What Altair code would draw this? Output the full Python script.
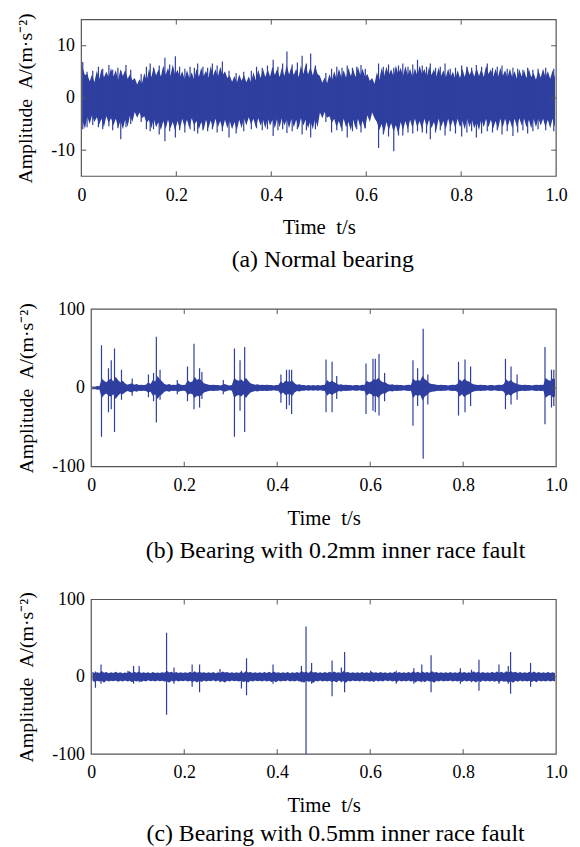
import altair as alt
import pandas as pd

FONT = "Liberation Serif"
BLUE = "#2e3f9f"
FRAME = "#555555"

# time grid: centres of 0.005 s bins
t_grid = [round(0.0025 + 0.005 * i, 4) for i in range(200)]
x_ticks = [0, 0.2, 0.4, 0.6, 0.8, 1.0]

# ---------------- (a) normal bearing : envelope of the dense signal ----------------
p1_hi = [5.9, 4.4, 4.6, 3.2, 4.5, 3.0, 5.2, 3.6, 5.6, 3.9, 5.0, 4.0, 5.7, 4.1, 5.3, 3.5, 5.5, 4.2, 5.4, 3.7,
         4.6, 3.4, 3.8, 2.6, 3.6, 2.7, 4.8, 3.3, 5.6, 4.0, 6.0, 4.3, 5.5, 4.1, 6.2, 4.4, 5.8, 4.2, 6.4, 4.5,
         5.4, 4.0, 5.1, 3.6, 5.3, 3.8, 4.9, 3.5, 5.6, 4.0, 5.8, 4.2, 5.2, 3.9, 6.1, 4.3, 5.5, 4.1, 6.0, 4.4,
         5.1, 3.8, 4.3, 3.1, 4.2, 2.9, 4.5, 3.3, 4.4, 3.0, 4.1, 3.0, 4.9, 3.4, 5.4, 3.8, 5.6, 4.0, 5.5, 4.1,
         6.0, 4.4, 5.6, 4.0, 5.9, 4.2, 6.3, 4.5, 6.0, 4.4, 5.6, 4.0, 6.2, 4.6, 6.4, 4.5, 6.0, 4.3, 6.2, 4.6,
         4.2, 2.9, 3.9, 2.8, 4.6, 3.3, 5.1, 3.7, 5.6, 4.0, 5.3, 3.9, 5.8, 4.2, 5.5, 4.0, 6.0, 4.4, 5.6, 4.0,
         4.6, 3.3, 3.8, 2.7, 4.9, 3.5, 5.8, 4.2, 6.0, 4.4, 5.5, 4.1, 6.2, 4.6, 5.8, 4.2, 6.1, 4.4, 5.6, 4.0,
         5.7, 4.3, 6.2, 4.6, 5.6, 4.0, 6.0, 4.4, 5.5, 4.1, 5.8, 4.2, 5.3, 3.9, 5.6, 4.0, 5.0, 3.7, 5.3, 3.8,
         5.6, 4.0, 6.0, 4.4, 5.5, 4.1, 5.8, 4.2, 5.6, 4.0, 6.2, 4.6, 5.5, 4.1, 5.6, 4.0, 5.8, 4.2, 5.3, 3.9,
         5.6, 4.0, 5.1, 3.7, 5.5, 4.1, 5.3, 3.8, 5.6, 4.0, 4.8, 3.5, 5.3, 3.9, 5.6, 4.0, 5.1, 3.7, 5.3, 3.9]
p1_lo = [-4.4, -5.9, -3.6, -5.0, -3.3, -4.6, -3.7, -5.1, -4.0, -5.6, -3.5, -4.8, -3.9, -5.3, -4.0, -5.6, -4.4, -6.0, -4.1, -5.5,
         -3.3, -4.6, -2.7, -3.8, -2.8, -3.9, -3.5, -4.8, -4.2, -5.8, -4.0, -5.6, -4.6, -6.2, -4.4, -6.0, -4.2, -5.8, -4.6, -6.3,
         -4.4, -6.0, -4.0, -5.6, -4.2, -5.8, -3.9, -5.3, -4.4, -6.0, -4.6, -6.2, -4.2, -5.8, -4.3, -5.7, -4.0, -5.6, -4.4, -6.0,
         -4.2, -5.8, -4.4, -6.0, -4.6, -6.2, -4.2, -5.8, -3.9, -5.3, -3.7, -5.1, -4.0, -5.6, -3.9, -5.3, -4.2, -5.8, -3.9, -5.3,
         -4.2, -5.8, -4.0, -5.6, -3.9, -5.3, -4.2, -5.8, -4.0, -5.6, -4.2, -5.8, -3.9, -5.3, -4.2, -5.8, -4.4, -6.0, -4.0, -5.6,
         -2.8, -3.9, -2.7, -3.8, -3.5, -4.8, -4.0, -5.6, -4.4, -6.0, -4.0, -5.6, -4.6, -6.2, -4.2, -5.8, -4.0, -5.6, -4.4, -6.0,
         -3.3, -4.6, -2.8, -3.9, -4.6, -6.2, -5.0, -6.7, -4.6, -6.2, -4.8, -6.5, -5.2, -6.9, -4.6, -6.2, -4.4, -6.0, -4.2, -5.8,
         -4.0, -5.6, -4.4, -6.0, -4.0, -5.6, -4.2, -5.8, -4.6, -6.2, -4.0, -5.6, -4.4, -6.0, -4.0, -5.6, -4.2, -5.8, -4.0, -5.6,
         -4.4, -6.0, -4.0, -5.6, -4.2, -5.8, -4.6, -6.2, -4.0, -5.6, -4.0, -5.6, -4.2, -5.8, -4.4, -6.0, -4.0, -5.6, -4.0, -5.6,
         -4.2, -5.8, -4.0, -5.6, -3.9, -5.3, -4.0, -5.6, -4.2, -5.8, -4.0, -5.6, -3.9, -5.3, -4.0, -5.6, -4.2, -5.8, -4.0, -5.6]

p1_spk_t = [0.003, 0.012, 0.024, 0.036, 0.045, 0.058, 0.066, 0.077, 0.083, 0.094,
            0.104, 0.126, 0.137, 0.145, 0.152, 0.164, 0.176, 0.186, 0.198, 0.207,
            0.218, 0.229, 0.238, 0.245, 0.256, 0.266, 0.276, 0.286, 0.297, 0.311,
            0.326, 0.342, 0.358, 0.369, 0.381, 0.392, 0.404, 0.414, 0.424, 0.433,
            0.444, 0.455, 0.465, 0.474, 0.483, 0.493, 0.515, 0.527, 0.538, 0.549,
            0.560, 0.571, 0.580, 0.589, 0.598, 0.626, 0.636, 0.647, 0.658, 0.668,
            0.677, 0.688, 0.698, 0.708, 0.718, 0.727, 0.735, 0.746, 0.756, 0.766,
            0.777, 0.788, 0.801, 0.812, 0.822, 0.832, 0.843, 0.855, 0.866, 0.876,
            0.886, 0.897, 0.909, 0.919, 0.930, 0.940, 0.951, 0.962, 0.978, 0.995]
p1_spk_hi = [6.9, 5.0, 5.2, 6.0, 5.6, 6.3, 5.4, 5.8, 5.2, 6.3,
             5.4, 4.6, 6.0, 6.6, 5.8, 6.2, 7.7, 6.4, 8.0, 6.0,
             5.6, 6.0, 5.8, 6.6, 6.0, 5.8, 6.6, 6.2, 7.0, 5.2,
             4.8, 5.0, 5.2, 6.0, 5.8, 6.2, 7.3, 6.0, 6.6, 8.9,
             6.4, 6.8, 8.1, 6.6, 8.5, 6.2, 4.8, 5.6, 6.0, 5.8,
             6.2, 5.8, 6.0, 6.3, 5.6, 6.6, 6.0, 6.4, 5.8, 6.2,
             6.6, 6.0, 6.4, 7.3, 6.2, 6.0, 6.6, 5.8, 6.0, 6.6,
             5.6, 5.8, 6.2, 6.0, 5.8, 6.3, 6.0, 6.6, 5.8, 6.0,
             6.2, 5.6, 5.8, 5.6, 5.4, 5.8, 5.4, 5.6, 5.8, 5.6]
p1_spk_lo = [-6.0, -5.6, -5.2, -5.6, -6.0, -5.4, -6.2, -5.8, -7.9, -5.6,
             -5.0, -4.6, -6.0, -6.4, -6.0, -7.0, -8.3, -6.4, -7.6, -6.2,
             -6.6, -6.0, -6.4, -6.8, -6.2, -6.4, -6.0, -6.6, -6.4, -7.6,
             -6.8, -6.4, -6.0, -5.8, -6.2, -6.0, -7.3, -6.2, -6.0, -6.7,
             -6.4, -6.0, -7.0, -6.2, -7.6, -6.0, -4.6, -6.6, -6.2, -6.4,
             -7.6, -6.4, -6.0, -6.6, -5.8, -9.6, -7.0, -7.4, -10.2, -7.2,
             -7.2, -6.6, -6.8, -6.4, -6.6, -6.8, -7.9, -6.6, -6.2, -7.2,
             -6.4, -6.8, -7.4, -6.6, -6.4, -7.6, -6.8, -6.4, -6.6, -6.2,
             -7.0, -6.4, -7.3, -6.6, -6.2, -6.8, -6.4, -6.0, -6.2, -6.4]

# ---------------- (b) 0.2 mm inner race fault ----------------
p2_hi = [2, 1.5, 2.5, 2, 12, 9, 7, 10, 12, 8, 14, 10, 7, 9, 6, 4, 5, 6, 4, 5,
         3.5, 4, 3.5, 4, 7, 5, 10, 8, 15, 11, 8, 5, 4, 5, 3.5, 4, 3.5, 6, 4, 3.5,
         4, 10, 7, 8, 14, 10, 12, 9, 6, 5, 4, 3.5, 4, 3.5, 3.5, 3, 4, 5, 3.5, 3,
         3.5, 13, 10, 9, 11, 8, 13, 9, 6, 5, 4, 4.5, 3.5, 4, 3.5, 4, 3.5, 3.5, 3, 3.5,
         3.5, 8, 6, 9, 8, 8, 9, 6, 4, 4.5, 3.5, 3.5, 3, 3.5, 3, 3.5, 3, 3.5, 3, 3.5,
         4, 10, 7, 9, 7, 6, 4, 4.5, 3.5, 4, 3.5, 3.5, 3, 3.5, 3.5, 3, 4, 3.5, 9, 7,
         8, 11, 10, 13, 9, 7, 7, 5, 4, 4.5, 3.5, 4, 3.5, 3.5, 3, 3.5, 4, 3.5, 12, 9,
         10, 9, 15, 11, 9, 6, 5, 4.5, 4, 3.5, 4, 3.5, 3.5, 3, 3.5, 4, 3.5, 5, 11, 8,
         12, 9, 8, 6, 4.5, 4, 3.5, 4, 3.5, 3.5, 3, 3.5, 3.5, 3, 3.5, 4, 3.5, 5, 11, 8,
         10, 7, 6, 4.5, 4, 3.5, 4, 3.5, 3.5, 3, 3.5, 4, 3.5, 4, 3.5, 13, 10, 9, 12, 11]
p2_lo = [-2, -1.5, -2.5, -2, -13, -9, -7, -10, -11, -8, -14, -10, -7, -8, -6, -4, -5, -6, -4, -5,
         -3.5, -4, -3.5, -4, -6, -5, -10, -8, -14, -10, -8, -5, -4, -5, -3.5, -4, -3.5, -5, -4, -3.5,
         -4, -9, -7, -8, -13, -10, -11, -9, -6, -5, -4, -3.5, -4, -3.5, -3.5, -3, -4, -5, -3.5, -3,
         -3.5, -13, -10, -9, -11, -8, -13, -9, -6, -5, -4, -4.5, -3.5, -4, -3.5, -4, -3.5, -3.5, -3, -3.5,
         -3.5, -8, -6, -9, -8, -8, -10, -6, -4, -4.5, -3.5, -3.5, -3, -3.5, -3, -3.5, -3, -3.5, -3, -3.5,
         -4, -10, -7, -9, -7, -6, -4, -4.5, -3.5, -4, -3.5, -3.5, -3, -3.5, -3.5, -3, -4, -3.5, -10, -7,
         -8, -11, -10, -13, -9, -7, -7, -5, -4, -4.5, -3.5, -4, -3.5, -3.5, -3, -3.5, -4, -3.5, -13, -9,
         -10, -9, -16, -11, -9, -6, -5, -4.5, -4, -3.5, -4, -3.5, -3.5, -3, -3.5, -4, -3.5, -5, -11, -8,
         -12, -9, -8, -6, -4.5, -4, -3.5, -4, -3.5, -3.5, -3, -3.5, -3.5, -3, -3.5, -4, -3.5, -5, -10, -8,
         -10, -7, -6, -4.5, -4, -3.5, -4, -3.5, -3.5, -3, -3.5, -4, -3.5, -4, -3.5, -13, -10, -9, -12, -11]

p2_spk_t = [0.022, 0.037, 0.043, 0.050, 0.065, 0.088, 0.123, 0.134, 0.140, 0.148,
            0.185, 0.207, 0.221, 0.233, 0.238, 0.284, 0.308, 0.320, 0.330, 0.408,
            0.420, 0.426, 0.431, 0.505, 0.518, 0.528, 0.591, 0.606, 0.611, 0.619,
            0.631, 0.692, 0.702, 0.714, 0.724, 0.790, 0.804, 0.816, 0.891, 0.903,
            0.916, 0.976, 0.990, 0.995]
p2_spk_hi = [54, 25, 35, 50, 23, 12, 17, 19, 65, 23,
             10, 27, 56, 25, 20, 10, 50, 35, 52, 17,
             23, 23, 23, 36, 33, 15, 31, 37, 37, 43,
             19, 35, 25, 75, 17, 33, 36, 27, 37, 27,
             17, 52, 23, 23]
p2_spk_lo = [-62, -31, -27, -56, -15, -10, -12, -17, -44, -15,
             -8, -17, -27, -25, -14, -8, -62, -29, -56, -19,
             -27, -22, -33, -31, -31, -14, -33, -29, -31, -35,
             -17, -48, -23, -90, -21, -35, -31, -23, -27, -21,
             -15, -46, -25, -23]

# ---------------- (c) 0.5 mm inner race fault ----------------
p3_hi = [6.5, 4.8, 6.0, 5.0, 7.5, 5.2, 6.2, 4.6, 5.8, 4.8, 6.4, 5.0, 6.0, 4.6, 5.6, 4.8, 7.2, 5.0, 6.6, 5.2,
         7.0, 4.8, 6.0, 5.0, 5.8, 4.6, 6.2, 5.0, 5.6, 4.8, 6.0, 5.2, 8.0, 5.6, 6.4, 5.0, 6.2, 4.8, 5.8, 5.0,
         6.0, 4.8, 6.4, 5.0, 7.2, 5.4, 6.6, 5.2, 6.0, 4.8, 5.8, 5.0, 6.2, 4.6, 6.0, 4.8, 7.0, 5.6, 6.2, 5.0,
         5.8, 4.8, 6.0, 5.0, 6.4, 5.0, 7.2, 5.6, 6.2, 5.0, 5.8, 4.8, 6.0, 5.0, 6.2, 4.8, 6.4, 5.0, 7.0, 5.4,
         6.0, 4.8, 5.8, 5.0, 6.2, 4.6, 6.0, 5.0, 6.2, 4.8, 7.6, 5.6, 6.4, 5.0, 8.0, 5.6, 6.2, 5.0, 6.0, 4.8,
         6.2, 5.0, 6.6, 5.2, 7.0, 5.4, 6.0, 4.8, 7.6, 5.6, 6.2, 5.0, 5.8, 4.8, 6.0, 5.0, 6.2, 4.8, 6.0, 5.0,
         6.6, 5.2, 6.0, 4.8, 6.2, 5.0, 5.8, 4.6, 6.0, 4.8, 6.4, 5.0, 6.2, 4.8, 6.0, 5.0, 6.2, 4.8, 7.2, 5.4,
         6.4, 5.0, 7.0, 5.2, 6.2, 4.8, 7.4, 5.6, 6.2, 5.0, 6.0, 4.8, 5.8, 5.0, 6.2, 4.8, 6.0, 5.0, 6.6, 5.2,
         6.2, 4.8, 6.0, 5.0, 7.2, 5.4, 6.6, 5.0, 6.2, 4.8, 6.0, 5.0, 6.4, 5.0, 7.0, 5.2, 6.4, 5.0, 7.2, 5.6,
         7.6, 5.6, 6.4, 5.0, 6.2, 4.8, 6.0, 5.0, 6.4, 5.2, 7.0, 5.0, 6.2, 4.8, 6.0, 5.0, 6.2, 4.8, 6.0, 5.0]
p3_lo = [-4.8, -6.6, -5.0, -6.0, -5.2, -7.8, -4.8, -6.2, -5.0, -5.8, -4.8, -6.4, -5.0, -6.0, -4.8, -5.6, -5.2, -7.0, -5.0, -6.2,
         -4.8, -6.6, -5.0, -6.0, -4.6, -5.8, -5.0, -6.2, -4.8, -5.6, -5.0, -6.0, -5.6, -7.6, -5.0, -6.4, -4.8, -6.2, -5.0, -5.8,
         -4.8, -6.0, -5.0, -6.6, -5.4, -7.4, -5.2, -6.6, -4.8, -6.0, -5.0, -5.8, -4.6, -6.2, -4.8, -6.0, -5.6, -7.2, -5.0, -6.2,
         -4.8, -5.8, -5.0, -6.0, -5.0, -6.6, -5.6, -7.4, -5.0, -6.2, -4.8, -5.8, -5.0, -6.0, -4.8, -6.2, -5.0, -6.6, -5.4, -7.0,
         -4.8, -6.0, -5.0, -5.8, -4.6, -6.2, -5.0, -6.0, -4.8, -6.2, -5.6, -7.6, -5.0, -6.4, -5.6, -8.0, -5.0, -6.2, -4.8, -6.0,
         -5.0, -6.2, -5.2, -6.6, -5.4, -7.2, -4.8, -6.0, -5.6, -7.8, -5.0, -6.2, -4.8, -5.8, -5.0, -6.0, -4.8, -6.2, -5.0, -6.0,
         -5.2, -6.8, -4.8, -6.0, -5.0, -6.2, -4.6, -5.8, -4.8, -6.0, -5.0, -6.6, -4.8, -6.2, -5.0, -6.0, -4.8, -6.2, -5.4, -7.4,
         -5.0, -6.4, -5.2, -7.0, -4.8, -6.2, -5.6, -7.6, -5.0, -6.2, -4.8, -6.0, -5.0, -5.8, -4.8, -6.2, -5.0, -6.0, -5.2, -6.8,
         -4.8, -6.2, -5.0, -6.0, -5.4, -7.2, -5.0, -6.6, -4.8, -6.2, -5.0, -6.0, -5.0, -6.4, -5.2, -7.0, -5.0, -6.4, -5.6, -7.4,
         -5.6, -7.8, -5.0, -6.4, -4.8, -6.2, -5.0, -6.0, -5.2, -6.6, -5.0, -7.0, -4.8, -6.2, -5.0, -6.0, -4.8, -6.2, -5.0, -6.0]

p3_spk_t = [0.009, 0.021, 0.079, 0.091, 0.103, 0.162, 0.178, 0.217, 0.233, 0.277,
            0.323, 0.334, 0.391, 0.452, 0.462, 0.474, 0.518, 0.538, 0.545, 0.601,
            0.656, 0.694, 0.711, 0.731, 0.794, 0.818, 0.834, 0.877, 0.897, 0.902,
            0.945]
p3_spk_hi = [7, 16, 8, 14, 14, 57, 12, 16, 16, 10,
             8, 24, 16, 14, 65, 18, 21, 12, 32, 8,
             8, 11, 16, 28, 11, 9, 22, 16, 14, 32,
             18]
p3_spk_lo = [-14, -9, -6, -9, -7, -49, -9, -13, -20, -7,
             -15, -24, -9, -7, -100, -9, -25, -7, -20, -6,
             -9, -9, -7, -20, -9, -7, -18, -9, -9, -22,
             -13]

Y_TITLE = "Amplitude\u2002A/(m\u00b7s\u207b\u00b2)"
X_TITLE = "Time\u2002t/s"
W = 479


def panel(hi, lo, spk_t, spk_hi, spk_lo, ydom, yticks, h, x0, caption, cap_dx, cap_off):
    core = pd.DataFrame({"t": t_grid, "hi": hi, "lo": lo})
    spk = pd.DataFrame({"t": spk_t, "hi": spk_hi, "lo": spk_lo})
    xs = alt.Scale(domain=[0, 1], range=[x0, W], nice=False, zero=False)
    ys = alt.Scale(domain=ydom, nice=False, zero=False)
    x_axis = alt.Axis(values=x_ticks, title=X_TITLE, grid=False, ticks=False, domain=False,
                      labelExpr="datum.value == 0 ? '0' : format(datum.value, '.1f')",
                      labelFlush=False, labelOverlap=False, labelPadding=10, titlePadding=13)
    y_axis = alt.Axis(values=yticks, title=Y_TITLE, grid=False, ticks=False, domain=False,
                      labelExpr="replace(datum.label, '\u2212', '-')", offset=-x0,
                      labelFlush=False, labelOverlap=False, labelPadding=7, titlePadding=15,
                      titleFontSize=20)
    X = alt.X("t:Q", scale=xs, axis=x_axis)
    Y = alt.Y("hi:Q", scale=ys, axis=y_axis)
    area = alt.Chart(core).mark_area(color=BLUE, clip=True, opacity=1).encode(
        x=X, y=Y, y2="lo:Q")
    spikes = alt.Chart(spk).mark_rule(color=BLUE, strokeWidth=1.2, clip=True).encode(
        x=X, y=Y, y2="lo:Q")
    inner_x = [v for v in x_ticks if 0 < v < 1]
    inner_y = [v for v in yticks if ydom[0] < v < ydom[1]]
    xt = pd.DataFrame({"t": inner_x})
    yt = pd.DataFrame({"hi": inner_y})
    tick_bottom = alt.Chart(xt).mark_rule(color=FRAME).encode(
        x=X, y=alt.value(h), y2=alt.value(h - 5))
    tick_top = alt.Chart(xt).mark_rule(color=FRAME).encode(
        x=X, y=alt.value(0), y2=alt.value(5))
    tick_left = alt.Chart(yt).mark_rule(color=FRAME).encode(
        y=Y, x=alt.value(x0), x2=alt.value(x0 + 5))
    tick_right = alt.Chart(yt).mark_rule(color=FRAME).encode(
        y=Y, x=alt.value(W - 5), x2=alt.value(W))
    frame = alt.Chart(pd.DataFrame({"t": [0]})).mark_rect(
        filled=False, stroke=FRAME, strokeWidth=1.2).encode(
        x=alt.value(x0), x2=alt.value(W), y=alt.value(0), y2=alt.value(h))
    return alt.layer(area, spikes, tick_bottom, tick_top, tick_left, tick_right, frame).properties(
        width=W, height=h,
        title=alt.TitleParams(caption, orient="bottom", anchor="middle", frame="group",
                              font=FONT, fontSize=24, fontWeight="normal", color="black",
                              offset=cap_off, dx=cap_dx),
    )


c1 = panel(p1_hi, p1_lo, p1_spk_t, p1_spk_hi, p1_spk_lo,
           [-15, 15], [-10, 0, 10], 158, 0, "(a) Normal bearing", 4, 11)
c2 = panel(p2_hi, p2_lo, p2_spk_t, p2_spk_hi, p2_spk_lo,
           [-100, 100], [-100, 0, 100], 159, 10, "(b) Bearing with 0.2mm inner race fault", 17, 11)
c3 = panel(p3_hi, p3_lo, p3_spk_t, p3_spk_hi, p3_spk_lo,
           [-100, 100], [-100, 0, 100], 156, 10, "(c) Bearing with 0.5mm inner race fault", 17, 7)

chart = alt.concat(c1, c2, c3, columns=1, spacing=26).properties(
    padding={"left": 7, "top": 0, "right": 4, "bottom": 2},
    background="white",
).configure_view(
    stroke="transparent",
).configure_axis(
    labelFont=FONT, labelFontSize=18, labelColor="black",
    titleFont=FONT, titleFontSize=21, titleFontWeight="normal", titleColor="black",
)

chart.save("out.html", embed_options={"renderer": "svg", "actions": False})
